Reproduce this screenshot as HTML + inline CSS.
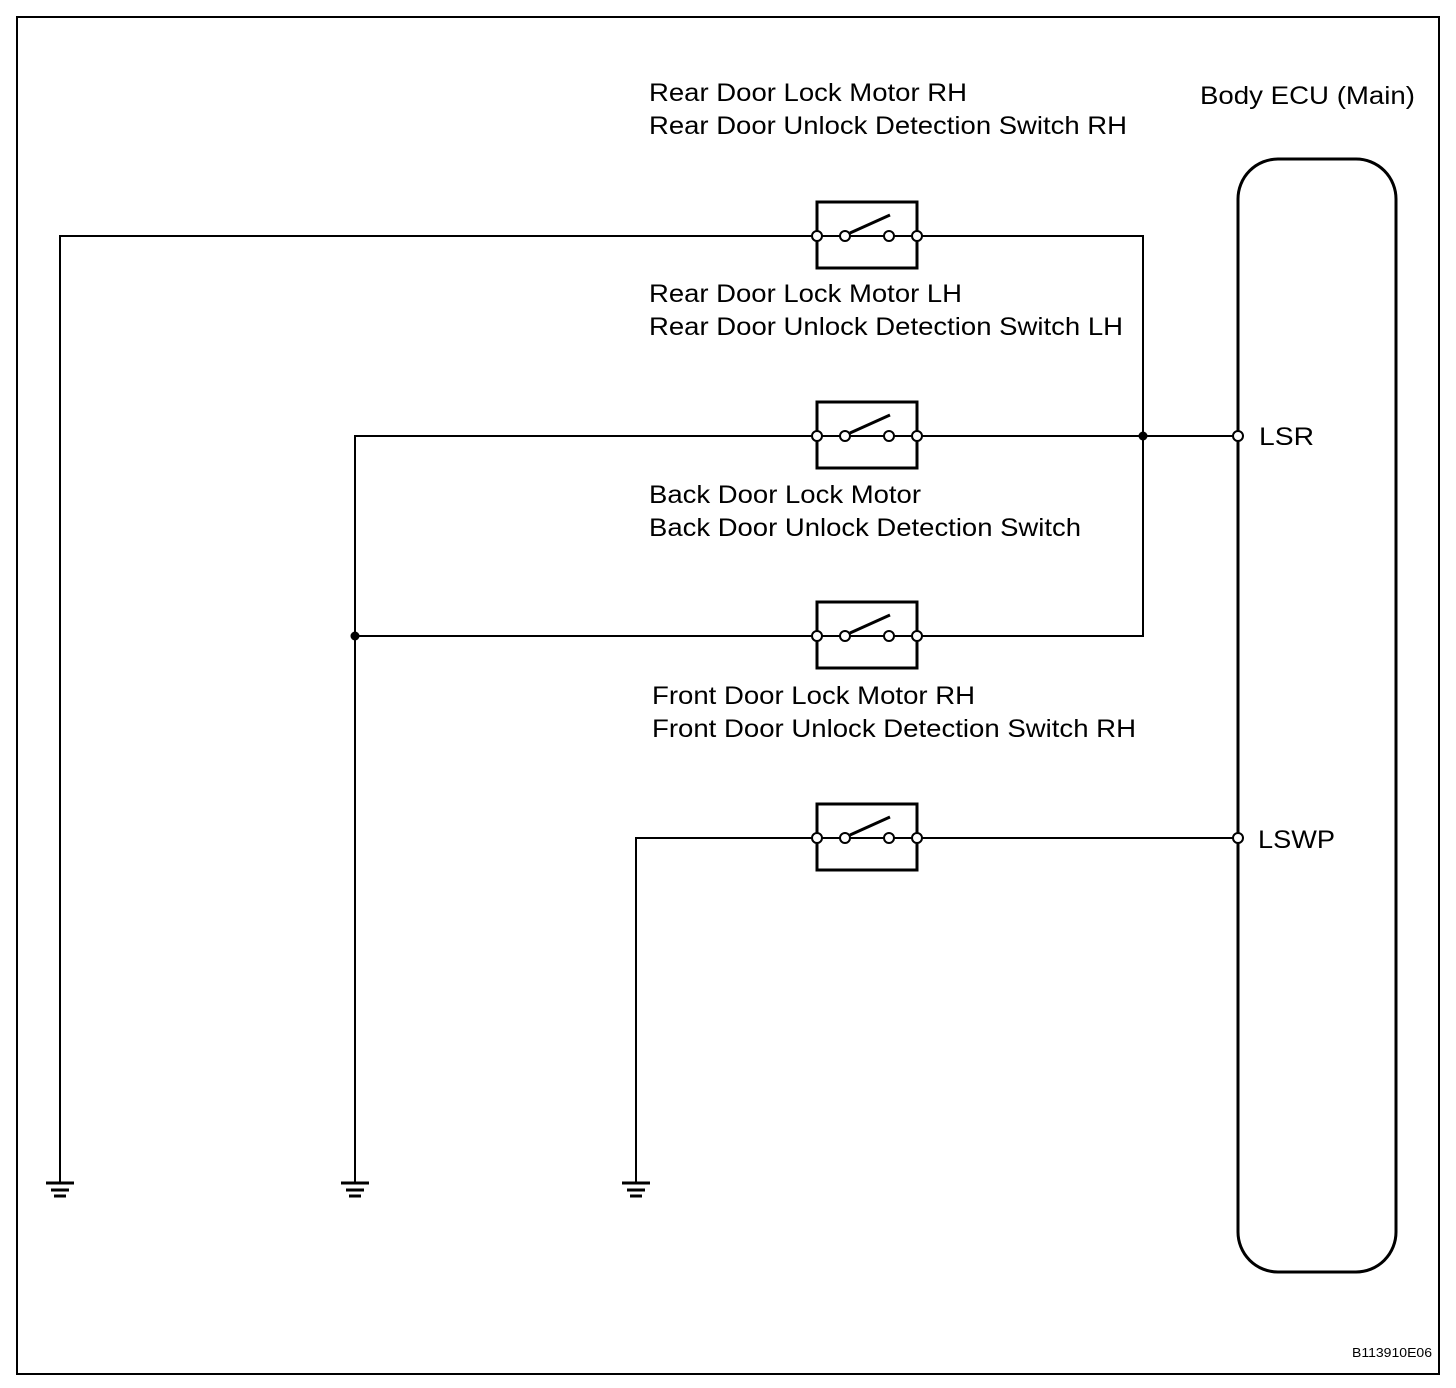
<!DOCTYPE html>
<html><head><style>body{margin:0;background:#fff}svg{display:block}</style></head><body>
<svg width="1456" height="1388" viewBox="0 0 1456 1388" xmlns="http://www.w3.org/2000/svg" font-family="Liberation Sans, Arial, sans-serif">
<rect x="17" y="17" width="1422" height="1357" fill="none" stroke="#000" stroke-width="2"/>
<rect x="1238" y="159" width="158" height="1113" rx="40" ry="40" fill="none" stroke="#000" stroke-width="3"/>
<g stroke="#000" stroke-width="2" fill="none">
<polyline points="60,1182 60,236 812,236"/>
<polyline points="922,236 1143,236 1143,636 922,636"/>
<polyline points="355,1182 355,436 812,436"/>
<line x1="922" y1="436" x2="1233" y2="436"/>
<line x1="355" y1="636" x2="812" y2="636"/>
<polyline points="636,1182 636,838 812,838"/>
<line x1="922" y1="838" x2="1233" y2="838"/>
</g>
<circle cx="1143" cy="436" r="4.5" fill="#000"/>
<circle cx="355" cy="636" r="4.5" fill="#000"/>
<circle cx="1238" cy="436" r="5" fill="#fff" stroke="#000" stroke-width="2"/>
<circle cx="1238" cy="838" r="5" fill="#fff" stroke="#000" stroke-width="2"/>
<defs>
<g id="sw">
<rect x="817" y="-34" width="100" height="66" fill="none" stroke="#000" stroke-width="3"/>
<line x1="817" y1="0" x2="917" y2="0" stroke="#000" stroke-width="2"/>
<line x1="850" y1="-3" x2="890" y2="-21" stroke="#000" stroke-width="3"/>
<circle cx="817" cy="0" r="5" fill="#fff" stroke="#000" stroke-width="2"/>
<circle cx="845" cy="0" r="5" fill="#fff" stroke="#000" stroke-width="2"/>
<circle cx="889" cy="0" r="5" fill="#fff" stroke="#000" stroke-width="2"/>
<circle cx="917" cy="0" r="5" fill="#fff" stroke="#000" stroke-width="2"/>
</g>
<g id="gnd" stroke="#000" stroke-width="3">
<line x1="-14" y1="0" x2="14" y2="0"/>
<line x1="-9" y1="7" x2="9" y2="7"/>
<line x1="-6" y1="13" x2="6" y2="13"/>
</g>
</defs>
<use href="#sw" y="236"/>
<use href="#sw" y="436"/>
<use href="#sw" y="636"/>
<use href="#sw" y="838"/>
<use href="#gnd" x="60" y="1183"/>
<use href="#gnd" x="355" y="1183"/>
<use href="#gnd" x="636" y="1183"/>
<g font-size="25" fill="#000" lengthAdjust="spacingAndGlyphs">
<text x="649" y="101" textLength="318" lengthAdjust="spacingAndGlyphs">Rear Door Lock Motor RH</text>
<text x="649" y="134" textLength="478" lengthAdjust="spacingAndGlyphs">Rear Door Unlock Detection Switch RH</text>
<text x="649" y="302" textLength="313" lengthAdjust="spacingAndGlyphs">Rear Door Lock Motor LH</text>
<text x="649" y="335" textLength="474" lengthAdjust="spacingAndGlyphs">Rear Door Unlock Detection Switch LH</text>
<text x="649" y="503" textLength="272" lengthAdjust="spacingAndGlyphs">Back Door Lock Motor</text>
<text x="649" y="536" textLength="432" lengthAdjust="spacingAndGlyphs">Back Door Unlock Detection Switch</text>
<text x="652" y="704" textLength="323" lengthAdjust="spacingAndGlyphs">Front Door Lock Motor RH</text>
<text x="652" y="737" textLength="484" lengthAdjust="spacingAndGlyphs">Front Door Unlock Detection Switch RH</text>
<text x="1200" y="104" textLength="215" lengthAdjust="spacingAndGlyphs">Body ECU (Main)</text>
<text x="1259" y="445" textLength="55" lengthAdjust="spacingAndGlyphs">LSR</text>
<text x="1258" y="848" textLength="77" lengthAdjust="spacingAndGlyphs">LSWP</text>
</g>
<text x="1352" y="1357" font-size="13" textLength="80" lengthAdjust="spacingAndGlyphs">B113910E06</text>
</svg>
</body></html>
